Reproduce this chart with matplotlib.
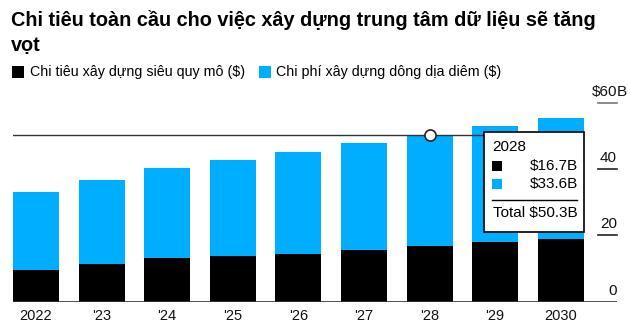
import matplotlib
matplotlib.use('Agg')
import matplotlib.pyplot as plt
from matplotlib.patches import Rectangle

plt.rcParams['font.family'] = ['Liberation Sans', 'DejaVu Sans']

years = [2022, 2023, 2024, 2025, 2026, 2027, 2028, 2029, 2030]
year_labels = ['2022', "'23", "'24", "'25", "'26", "'27", "'28", "'29", '2030']
hyperscale = [9.6, 11.3, 13.1, 13.8, 14.4, 15.6, 16.7, 17.9, 18.9]
colocation = [23.5, 25.4, 27.2, 28.9, 30.7, 32.3, 33.6, 35.0, 36.5]
y_ticks = [0, 20, 40, 60]
hover_idx = 6

BLUE = '#00aeff'
W, H = 630, 335

def fx(px):
    return px / W

def fy(py):
    return 1 - py / H

fig = plt.figure(figsize=(6.3, 3.35), dpi=100)
ax = fig.add_axes([fx(13), fy(301.7), fx(617) - fx(13), fy(102.7) - fy(301.7)])

x = list(range(len(years)))
ax.bar(x, hyperscale, width=0.7, color='black', zorder=2)
ax.bar(x, colocation, width=0.7, bottom=hyperscale, color=BLUE, zorder=2)
ax.set_xlim(-0.35, 8.857)
ax.set_ylim(0, 60)
for s in ax.spines.values():
    s.set_visible(False)
ax.set_xticks([])
ax.set_yticks([])
ax.axhline(0, color='#333333', lw=1.2, zorder=3)

# right-side ticks with labels above them
for t in y_ticks:
    if t > 0:
        ax.plot([0.969, 1.0], [t, t], transform=ax.get_yaxis_transform(),
                color='#777777' if t == 60 else '#222222', lw=1.2, clip_on=False)
    lab = '$' + str(t) if t == 60 else str(t)
    ax.text(1.0, t + 1.2, lab, transform=ax.get_yaxis_transform(),
            ha='right', va='bottom', fontsize=11, color='#111111')
ax.text(1.0, 61.2, 'B', transform=ax.get_yaxis_transform(),
        ha='left', va='bottom', fontsize=11, color='#111111')

for i, lab in enumerate(year_labels):
    ax.text(i, -4.3, lab, ha='center', va='center', fontsize=10.5, color='#111111')

# hover line and marker
total = hyperscale[hover_idx] + colocation[hover_idx]
box_left = (484.3 - 36) / 65.6
ax.plot([-0.35, box_left], [total, total], color='#333333', lw=1, zorder=4)
ax.plot([hover_idx], [total], marker='o', ms=8, mfc='white', mec='#222222',
        mew=1.2, zorder=5)

# tooltip
fig.patches.append(Rectangle((fx(484.3), fy(232.3)), fx(584.3) - fx(484.3),
                             fy(132.3) - fy(232.3), transform=fig.transFigure,
                             facecolor='white', edgecolor='black', lw=1.2, zorder=10))
fig.text(fx(492), fy(147), str(years[hover_idx]), fontsize=11, va='center', zorder=11)
fig.patches.append(Rectangle((fx(492), fy(171)), fx(10), 10 / H, transform=fig.transFigure,
                             facecolor='black', edgecolor='none', zorder=11))
fig.patches.append(Rectangle((fx(492), fy(189)), fx(10), 10 / H, transform=fig.transFigure,
                             facecolor=BLUE, edgecolor='none', zorder=11))
fig.text(fx(578), fy(166), '$%.1fB' % hyperscale[hover_idx], fontsize=11,
         ha='right', va='center', zorder=11)
fig.text(fx(578), fy(184), '$%.1fB' % colocation[hover_idx], fontsize=11,
         ha='right', va='center', zorder=11)
fig.add_artist(plt.Line2D([fx(492), fx(577)], [fy(200), fy(200)], color='black', lw=1, zorder=11))
fig.text(fx(578), fy(213), 'Total $%.1fB' % total, fontsize=11,
         ha='right', va='center', zorder=11)

# title and legend
fig.text(fx(11), fy(20), 'Chi tiêu toàn cầu cho việc xây dựng trung tâm dữ liệu sẽ tăng',
         fontsize=14.3, fontweight='bold', va='center')
fig.text(fx(11), fy(45), 'vọt', fontsize=14.3, fontweight='bold', va='center')

fig.patches.append(Rectangle((fx(12), fy(78)), fx(12), 12 / H, transform=fig.transFigure,
                             facecolor='black', edgecolor='none'))
fig.text(fx(30), fy(72), 'Chi tiêu xây dựng siêu quy mô ($)', fontsize=10.3, va='center')
fig.patches.append(Rectangle((fx(259), fy(78)), fx(12), 12 / H, transform=fig.transFigure,
                             facecolor=BLUE, edgecolor='none'))
fig.text(fx(276), fy(72), 'Chi phí xây dựng dông dịa diêm ($)', fontsize=10.3, va='center')

fig.savefig('out.png', dpi=100)
